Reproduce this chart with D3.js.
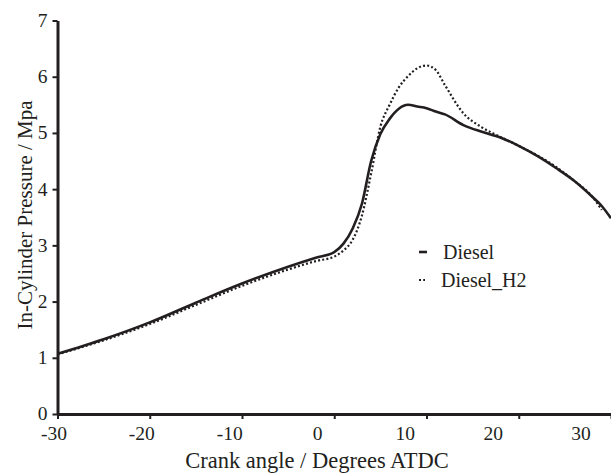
<!DOCTYPE html>
<html lang="en">
<head>
  <meta charset="UTF-8">
  <title>In-Cylinder Pressure</title>
  <script src="https://d3js.org/d3.v7.min.js"></script>
  <style>
    body { margin: 0; background: #fff; }
    svg text { fill: #231f20; }
  </style>
</head>
<body>
  <div id="chart"></div>
  <script>
    // crank angle (deg ATDC) and pressure (MPa)
    const angles = [-30, -25, -20, -15, -10, -5, -2, 0, 1, 2, 3, 4, 5, 6, 7, 8, 9, 10, 11, 12, 14, 16, 18, 20, 22, 24, 26, 28, 29, 30];
    const diesel = [1.07, 1.33, 1.63, 1.98, 2.32, 2.62, 2.78, 2.88, 3.03, 3.30, 3.74, 4.50, 4.98, 5.25, 5.43, 5.50, 5.47, 5.44, 5.38, 5.33, 5.14, 5.02, 4.92, 4.77, 4.59, 4.38, 4.15, 3.86, 3.70, 3.48];
    const dieselH2 = [1.06, 1.31, 1.60, 1.94, 2.28, 2.57, 2.72, 2.80, 2.91, 3.10, 3.53, 4.28, 5.11, 5.50, 5.81, 6.01, 6.15, 6.20, 6.12, 5.85, 5.35, 5.10, 4.93, 4.77, 4.60, 4.40, 4.15, 3.86, 3.63, null];

    const xTicks = [-30, -20, -10, 0, 10, 20, 30];
    const yTicks = [0, 1, 2, 3, 4, 5, 6, 7];
    const seriesNames = ["Diesel", "Diesel_H2"];

    const width = 611, height = 473;
    const ink = "#231f20";
    const serif = '"Liberation Serif", Tinos, "Times New Roman", Times, "DejaVu Serif", serif';

    const svg = d3.select("#chart").append("svg")
      .attr("width", width)
      .attr("height", height)
      .attr("font-family", serif);

    const x = d3.scaleLinear().domain([-30, 30]).range([57.5, 611]);
    const y = d3.scaleLinear().domain([0, 7]).range([414, 20.5]);
    // the tick labels in the original sit on a slightly narrower spacing than the ticks
    const xLabel = d3.scaleLinear().domain([-30, 30]).range([53.5, 580.5]);

    // x axis
    const gx = svg.append("g")
      .attr("transform", `translate(0,${y(0)})`)
      .call(d3.axisBottom(x).tickValues(xTicks).tickSize(5).tickSizeOuter(0).tickFormat(d => String(d)));
    gx.attr("font-family", serif).attr("font-size", 19.5);
    gx.select(".domain").attr("stroke", ink).attr("stroke-width", 3);
    gx.selectAll(".tick line").attr("stroke", ink).attr("stroke-width", 2);
    gx.selectAll(".tick text")
      .attr("x", d => xLabel(d) - x(d))
      .attr("y", 12)
      .attr("dy", "0.71em");

    // y axis
    const gy = svg.append("g")
      .attr("transform", `translate(${x(-30)},0)`)
      .call(d3.axisLeft(y).tickValues(yTicks).tickSize(5).tickSizeOuter(0).tickFormat(d => String(d)));
    gy.attr("font-family", serif).attr("font-size", 19.5);
    gy.select(".domain").attr("stroke", ink).attr("stroke-width", 3);
    gy.selectAll(".tick line").attr("stroke", ink).attr("stroke-width", 2);
    gy.selectAll(".tick text").attr("x", -10).attr("dy", "0.3em");

    // axis titles
    svg.append("text")
      .attr("x", 317)
      .attr("y", 468)
      .attr("text-anchor", "middle")
      .attr("font-size", 22.5)
      .text("Crank angle / Degrees ATDC");

    svg.append("text")
      .attr("transform", "translate(32,215) rotate(-90)")
      .attr("text-anchor", "middle")
      .attr("font-size", 21)
      .text("In-Cylinder Pressure / Mpa");

    // lines
    const line = (vals) => d3.line()
      .defined((d, i) => vals[i] != null)
      .x((d, i) => x(angles[i]))
      .y((d, i) => y(vals[i]))
      .curve(d3.curveMonotoneX)(angles);

    svg.append("path")
      .attr("d", line(dieselH2))
      .attr("fill", "none")
      .attr("stroke", ink)
      .attr("stroke-width", 2.2)
      .attr("stroke-dasharray", "2,2.2");

    svg.append("path")
      .attr("d", line(diesel))
      .attr("fill", "none")
      .attr("stroke", ink)
      .attr("stroke-width", 2.6);

    // legend
    const legend = svg.append("g");
    legend.append("line")
      .attr("x1", 419).attr("x2", 427).attr("y1", 252).attr("y2", 252)
      .attr("stroke", ink).attr("stroke-width", 2.6);
    legend.append("text")
      .attr("x", 443).attr("y", 259)
      .attr("font-size", 20)
      .text(seriesNames[0]);

    legend.append("line")
      .attr("x1", 419).attr("x2", 425).attr("y1", 280).attr("y2", 280)
      .attr("stroke", ink).attr("stroke-width", 2)
      .attr("stroke-dasharray", "2,2.2");
    legend.append("text")
      .attr("x", 441).attr("y", 287)
      .attr("font-size", 20)
      .text(seriesNames[1]);
  </script>
</body>
</html>
